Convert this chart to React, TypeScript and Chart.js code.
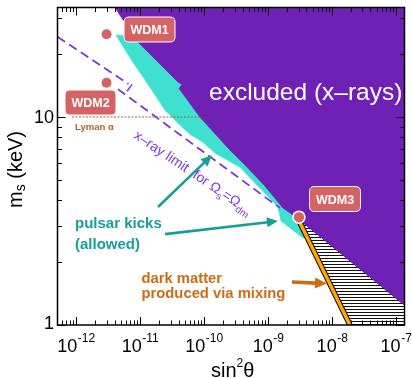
import React, { useEffect, useRef } from "react";
import { Chart, registerables } from "chart.js";

Chart.register(...registerables);

type Pt = [number, number];

// axis ranges: sin^2(theta) and m_s (keV)
const X_RANGE: Pt = [5.14e-13, 1.36e-7];
const Y_RANGE: Pt = [1, 33.6];

const xTickExponents = [-12, -11, -10, -9, -8, -7];
const yTickValues = [1, 10];

// excluded by x-rays (purple)
const excludedRegion: Pt[] = [
  [4.07e-12, 33.6],
  [8.66e-12, 23.4],
  [3.93e-11, 14.7],
  [4.53e-11, 14.35],
  [4.07e-11, 13.7],
  [8.66e-11, 9.97],
  [2.55e-10, 6.92],
  [4.37e-10, 5.87],
  [8.98e-10, 4.65],
  [1.71e-9, 3.65],
  [2.94e-9, 3.25],
  [1.36e-7, 1.247],
  [1.36e-7, 33.6],
  [4.07e-12, 33.6],
];

// pulsar kicks allowed (cyan)
const pulsarRegion: Pt[] = [
  [4.22e-12, 24.7],
  [7.78e-12, 18.3],
  [1.43e-11, 13.9],
  [2.46e-11, 10.77],
  [3.93e-11, 9.33],
  [6.04e-11, 8.26],
  [9.64e-11, 7.56],
  [1.49e-10, 6.7],
  [3.65e-10, 5.73],
  [8.06e-10, 4.45],
  [1.43e-9, 3.69],
  [1.6e-9, 3.16],
  [3.52e-9, 2.62],
  [3.93e-9, 2.67],
  [2.94e-9, 3.25],
  [1.07e-9, 5.55],
  [8.66e-11, 15.0],
  [1.2e-11, 24.7],
  [4.22e-12, 24.7],
];

// hatched region (overproduction via mixing)
const mixingRegion: Pt[] = [
  [2.94e-9, 3.25],
  [1.36e-7, 1.247],
  [1.36e-7, 1],
  [1.91e-8, 1],
  [2.94e-9, 3.25],
];

// dark matter produced via mixing (orange line)
const mixingLine: Pt[] = [
  [2.94e-9, 3.25],
  [1.91e-8, 1],
];

// x-ray limit for Omega_s = Omega_dm (dashed)
const xrayLimitUpper: Pt[] = [
  [5.14e-13, 24.3],
  [6.6e-12, 14.4],
];
const xrayLimitLower: Pt[] = [
  [4.53e-12, 13.6],
  [1.54e-9, 3.65],
];
const xrayLimitBreak: Pt[] = [
  [6.26e-12, 13.29],
  [7.5e-12, 14.35],
];

// Lyman alpha bound
const lymanAlpha: Pt[] = [
  [8.66e-13, 10],
  [9.5e-11, 10],
];

const wdmNames = ["WDM1", "WDM2", "WDM3"];
const wdmPoints: Pt[] = [
  [3.0e-12, 25.0],
  [3.0e-12, 14.6],
  [3.05e-9, 3.3],
];

// annotation arrows (tail, head) in data coordinates
const pulsarArrow1: Pt[] = [
  [1.91e-11, 3.69],
  [1.33e-10, 6.55],
];
const pulsarArrow2: Pt[] = [
  [2.46e-11, 2.735],
  [1.43e-9, 3.16],
];
const mixingArrow: Pt[] = [
  [2.37e-9, 1.609],
  [8.36e-9, 1.582],
];

const PURPLE = "#7021b5";
const CYAN = "#40e0d0";
const TEAL = "#179e9b";
const ORANGE_LINE = "#ffa500";
const ORANGE = "#cc6d14";
const SALMON = "#d66363";
const LINE_PURPLE = "#7b3ad0";
const BROWN = "#b5611f";
const FONT = '"Liberation Sans", Arial, Helvetica, sans-serif';

const toXY = (pts: Pt[]) => pts.map(([x, y]) => ({ x, y }));

function drawArrow(
  ctx: CanvasRenderingContext2D,
  x1: number,
  y1: number,
  x2: number,
  y2: number,
  color: string,
  w: number,
  headLen: number,
  headHalf: number
) {
  const a = Math.atan2(y2 - y1, x2 - x1);
  const bx = x2 - headLen * Math.cos(a);
  const by = y2 - headLen * Math.sin(a);
  ctx.strokeStyle = color;
  ctx.lineWidth = w;
  ctx.lineCap = "butt";
  ctx.setLineDash([]);
  ctx.beginPath();
  ctx.moveTo(x1, y1);
  ctx.lineTo(bx + Math.cos(a), by + Math.sin(a));
  ctx.stroke();
  ctx.fillStyle = color;
  ctx.beginPath();
  ctx.moveTo(x2, y2);
  ctx.lineTo(bx + headHalf * Math.sin(a), by - headHalf * Math.cos(a));
  ctx.lineTo(bx - headHalf * Math.sin(a), by + headHalf * Math.cos(a));
  ctx.closePath();
  ctx.fill();
}

function roundRect(ctx: CanvasRenderingContext2D, x: number, y: number, w: number, h: number, r: number) {
  ctx.beginPath();
  ctx.moveTo(x + r, y);
  ctx.lineTo(x + w - r, y);
  ctx.quadraticCurveTo(x + w, y, x + w, y + r);
  ctx.lineTo(x + w, y + h - r);
  ctx.quadraticCurveTo(x + w, y + h, x + w - r, y + h);
  ctx.lineTo(x + r, y + h);
  ctx.quadraticCurveTo(x, y + h, x, y + h - r);
  ctx.lineTo(x, y + r);
  ctx.quadraticCurveTo(x, y, x + r, y);
  ctx.closePath();
}

const overlayPlugin = {
  id: "overlay",
  afterDatasetsDraw(chart: any) {
    const ctx: CanvasRenderingContext2D = chart.ctx;
    const xs = chart.scales.x;
    const ys = chart.scales.y;
    const area = chart.chartArea;
    const P = (p: Pt) => [xs.getPixelForValue(p[0]), ys.getPixelForValue(p[1])];
    ctx.save();

    // arrows
    const arrows: [Pt[], string, number, number, number][] = [
      [pulsarArrow1, TEAL, 2.6, 11, 5],
      [pulsarArrow2, TEAL, 2.6, 11, 5],
      [mixingArrow, ORANGE, 3.6, 12, 5.5],
    ];
    for (const [pts, c, w, hl, hh] of arrows) {
      const [a, b] = [P(pts[0]), P(pts[1])];
      drawArrow(ctx, a[0], a[1], b[0], b[1], c, w, hl, hh);
    }

    // WDM labels
    const boxes: [number, number][] = [
      [149.5, 29.5],
      [90.5, 102.5],
      [335, 199],
    ];
    boxes.forEach(([cx, cy], i) => {
      roundRect(ctx, cx - 25.5, cy - 12.5, 51, 25, 5);
      ctx.fillStyle = SALMON;
      ctx.fill();
      ctx.strokeStyle = "#ffffff";
      ctx.lineWidth = 1;
      ctx.stroke();
      ctx.fillStyle = "#ffffff";
      ctx.font = `bold 12.5px ${FONT}`;
      ctx.textAlign = "center";
      ctx.textBaseline = "alphabetic";
      ctx.fillText(wdmNames[i], cx, cy + 4.5);
    });

    ctx.textAlign = "left";
    // excluded text
    ctx.fillStyle = "#ffffff";
    ctx.font = `24.5px ${FONT}`;
    ctx.fillText("excluded (x\u2013rays)", 209, 100);

    // Lyman alpha
    ctx.fillStyle = BROWN;
    ctx.font = `bold 9.5px ${FONT}`;
    ctx.fillText("Lyman \u03b1", 75, 129.5);

    // pulsar kicks
    ctx.fillStyle = TEAL;
    ctx.font = `bold 15px ${FONT}`;
    ctx.fillText("pulsar kicks", 75, 227.7);
    ctx.fillText("(allowed)", 75, 249);

    // dark matter
    ctx.fillStyle = ORANGE;
    ctx.font = `bold 14.8px ${FONT}`;
    ctx.fillText("dark matter", 141.5, 283);
    ctx.fillText("produced via mixing", 141.5, 297.5);

    // rotated x-ray limit label
    const seg = (t: string, font: string, dy: number, state: { x: number }) => {
      ctx.font = font;
      ctx.fillText(t, state.x, dy);
      state.x += ctx.measureText(t).width;
    };
    ctx.save();
    ctx.translate(133, 137.5);
    ctx.rotate((34 * Math.PI) / 180);
    ctx.fillStyle = LINE_PURPLE;
    const st = { x: 0 };
    const f14 = `14px ${FONT}`;
    const f10 = `10px ${FONT}`;
    seg("x\u2013ray limit  for \u03a9", f14, 0, st);
    seg("s", f10, 4, st);
    seg("=\u03a9", f14, 0, st);
    seg("dm", f10, 4, st);
    ctx.restore();

    // frame
    ctx.strokeStyle = "#000000";
    ctx.lineWidth = 1.5;
    ctx.setLineDash([]);
    ctx.strokeRect(area.left, area.top, area.right - area.left, area.bottom - area.top);

    // ticks
    ctx.lineWidth = 1;
    const MAJ = 8;
    const MIN = 4.5;
    ctx.beginPath();
    for (let e = -13; e <= -7; e++) {
      for (let k = 1; k <= 9; k++) {
        const v = k * Math.pow(10, e);
        if (v < X_RANGE[0] || v > X_RANGE[1]) continue;
        const px = Math.round(xs.getPixelForValue(v)) + 0.5;
        const len = k === 1 ? MAJ : MIN;
        ctx.moveTo(px, area.bottom);
        ctx.lineTo(px, area.bottom - len);
        ctx.moveTo(px, area.top);
        ctx.lineTo(px, area.top + len);
      }
    }
    for (let e = 0; e <= 1; e++) {
      for (let k = 1; k <= 9; k++) {
        const v = k * Math.pow(10, e);
        if (v < Y_RANGE[0] || v > Y_RANGE[1]) continue;
        const py = Math.round(ys.getPixelForValue(v)) + 0.5;
        const len = k === 1 ? MAJ : MIN;
        ctx.moveTo(area.left, py);
        ctx.lineTo(area.left + len, py);
        ctx.moveTo(area.right, py);
        ctx.lineTo(area.right - len, py);
      }
    }
    ctx.stroke();

    // x tick labels
    ctx.fillStyle = "#000000";
    for (const e of xTickExponents) {
      const px = xs.getPixelForValue(Math.pow(10, e));
      ctx.font = `18px ${FONT}`;
      const w1 = ctx.measureText("10").width;
      const sup = "-" + Math.abs(e);
      ctx.font = `12px ${FONT}`;
      const w2 = ctx.measureText(sup).width;
      const x0 = px - (w1 + w2) / 2;
      ctx.font = `18px ${FONT}`;
      ctx.fillText("10", x0, area.bottom + 26.5);
      ctx.font = `12px ${FONT}`;
      ctx.fillText(sup, x0 + w1 + 0.5, area.bottom + 17);
    }

    // y tick labels
    ctx.textAlign = "right";
    ctx.font = `18px ${FONT}`;
    for (const v of yTickValues) {
      const py = ys.getPixelForValue(v);
      ctx.fillText(String(v), area.left - 3.5, Math.min(py + 6.5, area.bottom + 3.5));
    }
    ctx.textAlign = "left";

    // x title
    const xs2 = { x: 211 };
    ctx.fillStyle = "#000000";
    const tx = (t: string, font: string, y: number) => {
      ctx.font = font;
      ctx.fillText(t, xs2.x, y);
      xs2.x += ctx.measureText(t).width;
    };
    tx("sin", `20px ${FONT}`, 376.5);
    tx("2", `12px ${FONT}`, 367);
    tx("\u03b8", `20px ${FONT}`, 376.5);

    // y title
    ctx.save();
    ctx.translate(22, 208);
    ctx.rotate(-Math.PI / 2);
    const ys2 = { x: 0 };
    seg("m", `20px ${FONT}`, 0, ys2);
    seg("s", `14px ${FONT}`, 3, ys2);
    seg(" (keV)", `20px ${FONT}`, 0, ys2);
    ctx.restore();

    ctx.restore();
  },
};

export default function App() {
  const canvasRef = useRef<HTMLCanvasElement | null>(null);

  useEffect(() => {
    const canvas = canvasRef.current;
    if (!canvas) return;

    const pc = document.createElement("canvas");
    pc.width = 4;
    pc.height = 3;
    const pctx = pc.getContext("2d")!;
    pctx.fillStyle = "#ffffff";
    pctx.fillRect(0, 0, 4, 3);
    pctx.fillStyle = "#111111";
    pctx.fillRect(0, 0, 4, 1);
    const hatch = canvas.getContext("2d")!.createPattern(pc, "repeat");

    const poly = (data: Pt[], color: any, order: number, extra: any = {}) => ({
      data: toXY(data),
      showLine: true,
      fill: "shape",
      backgroundColor: color,
      borderColor: color,
      borderWidth: 0.6,
      pointRadius: 0,
      tension: 0,
      order,
      ...extra,
    });
    const line = (data: Pt[], color: string, width: number, order: number, extra: any = {}) => ({
      data: toXY(data),
      showLine: true,
      fill: false,
      borderColor: color,
      backgroundColor: color,
      borderWidth: width,
      pointRadius: 0,
      tension: 0,
      order,
      ...extra,
    });

    const chart = new Chart(canvas, {
      type: "scatter",
      data: {
        datasets: [
          poly(pulsarRegion, CYAN, 20) as any,
          poly(mixingRegion, hatch, 19, { borderColor: "#000000", borderWidth: 1 }) as any,
          poly(excludedRegion, PURPLE, 18) as any,
          line(lymanAlpha, BROWN, 1.2, 17, { borderDash: [2, 1.5] }) as any,
          line(xrayLimitUpper, LINE_PURPLE, 1.8, 16, { borderDash: [9, 5] }) as any,
          line(xrayLimitLower, LINE_PURPLE, 1.8, 15, { borderDash: [9, 5] }) as any,
          line(xrayLimitBreak, LINE_PURPLE, 1.5, 14) as any,
          line(mixingLine, "#000000", 5.5, 13) as any,
          line(mixingLine, ORANGE_LINE, 3.6, 12) as any,
          {
            data: toXY(wdmPoints),
            showLine: false,
            pointRadius: [5, 5, 6],
            pointBackgroundColor: SALMON,
            pointBorderColor: ["rgba(0,0,0,0)", "rgba(0,0,0,0)", "#ffffff"],
            pointBorderWidth: [0, 0, 1.5],
            order: 1,
          } as any,
        ],
      },
      options: {
        animation: false,
        responsive: false,
        events: [],
        layout: { padding: { left: 57.5, right: 7.5, top: 7, bottom: 53 } },
        plugins: {
          legend: { display: false },
          tooltip: { enabled: false },
        },
        scales: {
          x: { type: "logarithmic", min: X_RANGE[0], max: X_RANGE[1], display: false },
          y: { type: "logarithmic", min: Y_RANGE[0], max: Y_RANGE[1], display: false },
        },
      },
      plugins: [overlayPlugin],
    });

    return () => chart.destroy();
  }, []);

  return (
    <div style={{ position: "absolute", left: 0, top: 0, width: 412, height: 378, background: "#ffffff" }}>
      <canvas ref={canvasRef} width={412} height={378} style={{ display: "block" }} />
    </div>
  );
}
